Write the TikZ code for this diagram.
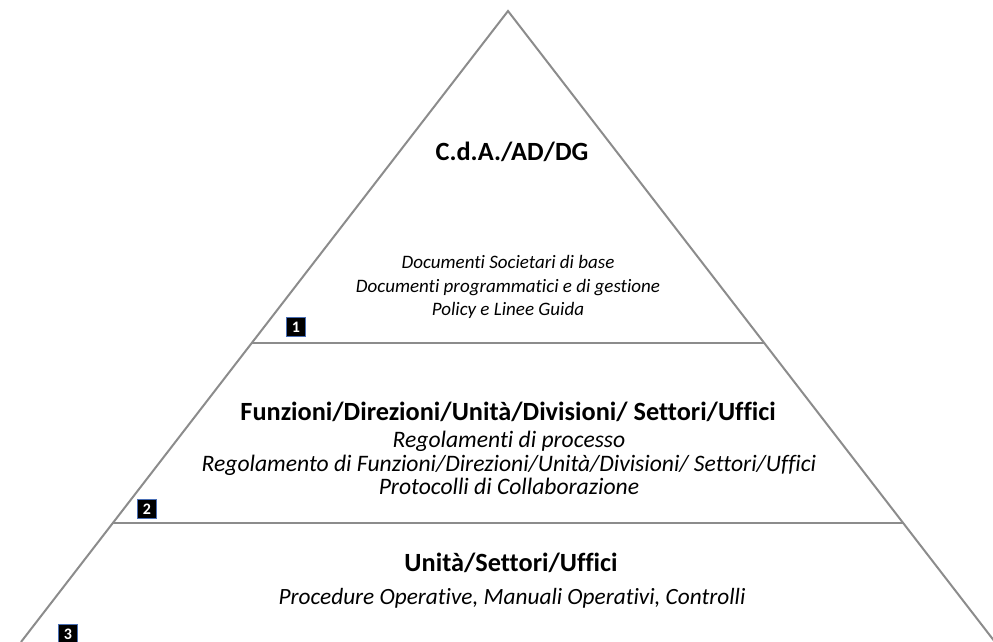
\documentclass[tikz,border=0pt]{standalone}
\usepackage{fontspec}
\setmainfont{Carlito}[Ligatures=NoCommon]
\usepackage{tikz}
\usetikzlibrary{calc}
\definecolor{edgegray}{HTML}{8C8C8C}
\definecolor{boxblue}{HTML}{4A6FB5}

\begin{document}
\begin{tikzpicture}[x=1pt, y=-1pt,
    edge/.style={draw=edgegray, line width=2pt},
    level/.style={font=\fontsize{26.3}{30}\selectfont\bfseries, align=center},
    docs/.style={font=\fontsize{#1}{23.3}\selectfont\itshape, align=center},
    numbox/.style={fill=black, draw=boxblue, line width=0.8pt, text=white,
        font=\fontsize{16}{16}\selectfont\bfseries, inner sep=1.5pt,
        minimum width=19pt, minimum height=19pt}]
    \useasboundingbox (0, 0) rectangle (993, 642);

    % Pyramid outline
    \coordinate (apex) at (508, 11);
    \coordinate (bl) at (21, 642);
    \coordinate (br) at (995, 642);
    \draw[edge, line join=miter] (bl) -- (apex) -- (br);

    % Level separators
    \coordinate (s1l) at ($(apex)!0.526!(bl)$);
    \coordinate (s1r) at ($(apex)!0.526!(br)$);
    \coordinate (s2l) at ($(apex)!0.811!(bl)$);
    \coordinate (s2r) at ($(apex)!0.811!(br)$);
    \draw[edge] (s1l) -- (s1r);
    \draw[edge] (s2l) -- (s2r);

    % Level 1
    \node[level] (top) at (512, 152) {C.d.A./AD/DG};
    \node[docs=19] (topdocs) at (508, 287) {Documenti Societari di base\\Documenti programmatici e di gestione\\Policy e Linee Guida};
    \node[numbox] (n1) at (296, 327) {1};

    % Level 2
    \node[level] (mid) at (508, 412) {Funzioni/Direzioni/Unità/Divisioni/ Settori/Uffici};
    \node[docs=23.6] (middocs) at (509, 463) {Regolamenti di processo\\Regolamento di Funzioni/Direzioni/Unità/Divisioni/ Settori/Uffici\\Protocolli di Collaborazione};
    \node[numbox] (n2) at (147, 509) {2};

    % Level 3
    \node[level] (low) at (511, 563) {Unità/Settori/Uffici};
    \node[docs=23.3] (lowdocs) at (512, 598) {Procedure Operative, Manuali Operativi, Controlli};
    \node[numbox] (n3) at (68, 634) {3};
\end{tikzpicture}
\end{document}
